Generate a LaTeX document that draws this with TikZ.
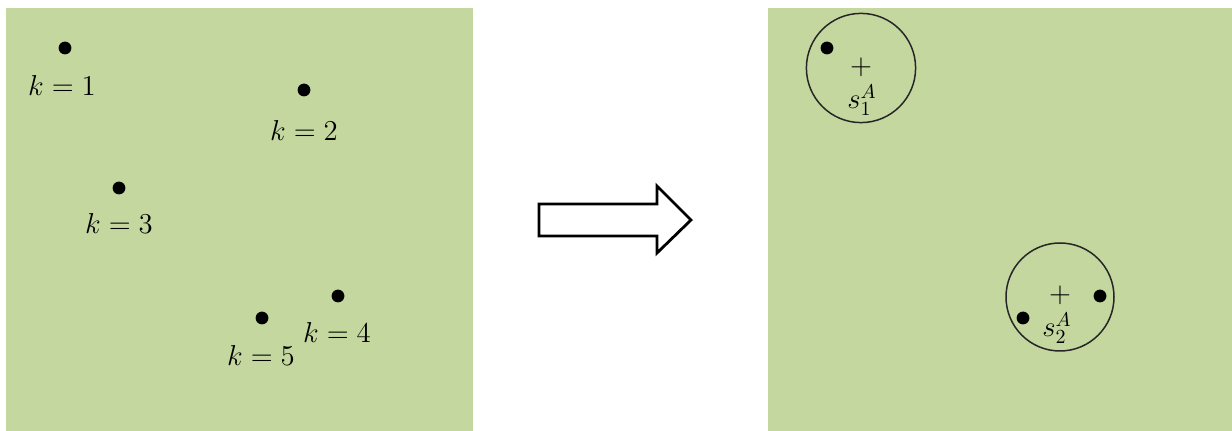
\documentclass[tikz,border=0pt]{standalone}
\usepackage{tikz}
\definecolor{panelgreen}{RGB}{196,215,159}
\begin{document}
\begin{tikzpicture}[x=0.5pt,y=-0.5pt,
  panel/.style={fill=panelgreen,draw=none},
  pt/.style={circle,fill=black,inner sep=0pt,minimum size=6.4pt},
  lbl/.style={inner sep=0pt,font=\fontsize{14}{16}\selectfont},
  ring/.style={draw=black!85,line width=0.75pt},
  centre/.style={inner sep=0pt,font=\fontsize{15}{17}\selectfont}]
\useasboundingbox (0,0) rectangle (1232,431);
% the two panels
\fill[panel] (6,8) rectangle (473,431);
\fill[panel] (768,8) rectangle (1232,431);

% points before clustering
\node[pt] (p1) at (65,48) {};
\node[pt] (p2) at (304,90) {};
\node[pt] (p3) at (119,188) {};
\node[pt] (p4) at (338,296) {};
\node[pt] (p5) at (262,318) {};
\node[lbl] (l1) at (62,86) {$k=1$};
\node[lbl] (l2) at (304,131) {$k=2$};
\node[lbl] (l3) at (119,224) {$k=3$};
\node[lbl] (l4) at (337,333) {$k=4$};
\node[lbl] (l5) at (261,356) {$k=5$};

% block arrow
\coordinate (a1) at (539,204);
\coordinate (a2) at (657,204);
\coordinate (a3) at (657,186);
\coordinate (a4) at (691,220);
\coordinate (a5) at (657,253);
\coordinate (a6) at (657,236);
\coordinate (a7) at (539,236);
\draw[line width=1.4pt,fill=white,line join=miter] (a1) -- (a2) -- (a3) -- (a4) -- (a5) -- (a6) -- (a7) -- cycle;

% clusters after grouping
\coordinate (c1) at (861,68);
\draw[ring] (c1) circle[radius=27.3pt];
\node[centre] (m1) at (861,67) {$+$};
\node[pt] (q1) at (827,48) {};
\node[lbl] (s1) at (862,100) {$s_1^A$};

\coordinate (c2) at (1060,297);
\draw[ring] (c2) circle[radius=27pt];
\node[centre] (m2) at (1060,295) {$+$};
\node[pt] (q2) at (1100,296) {};
\node[pt] (q3) at (1023,318) {};
\node[lbl] (s2) at (1057,328) {$s_2^A$};
\end{tikzpicture}
\end{document}
